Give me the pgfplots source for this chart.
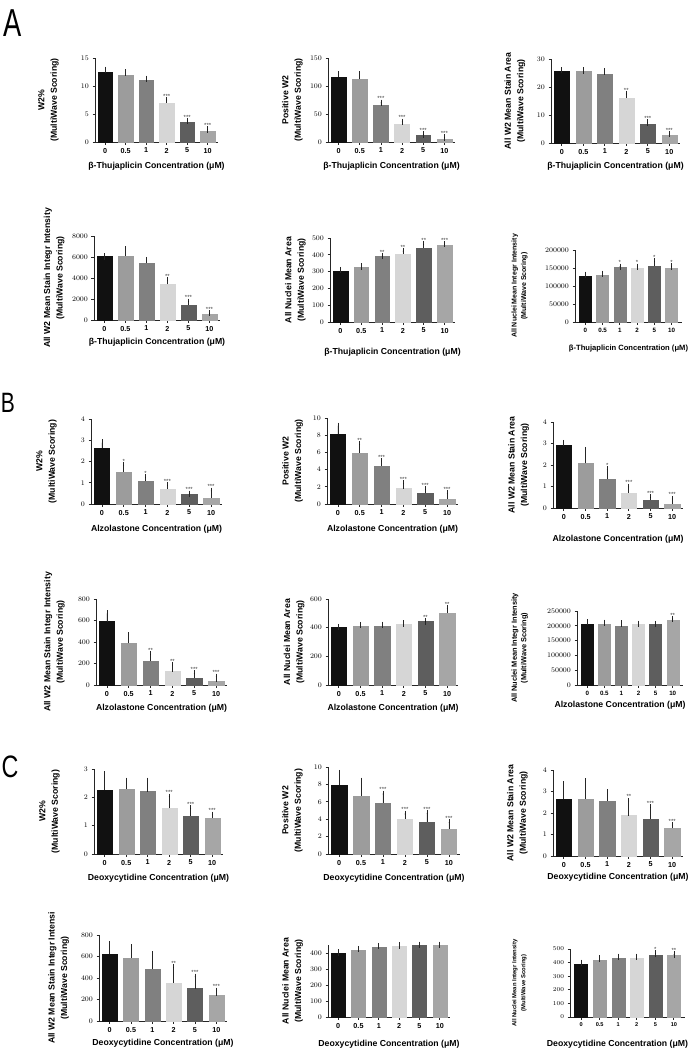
\documentclass[border=0pt]{standalone}
\usepackage{fontspec}
\setmainfont{Liberation Sans}
\usepackage{pgfplots}
\pgfplotsset{compat=1.18}
\definecolor{c0}{HTML}{111111}
\definecolor{c1}{HTML}{9C9C9C}
\definecolor{c2}{HTML}{808080}
\definecolor{c3}{HTML}{D6D6D6}
\definecolor{c4}{HTML}{5E5E5E}
\definecolor{c5}{HTML}{A6A6A6}
\newcommand\B[3]{\addplot[ybar, bar width=0.7, bar shift=0pt, fill=c#1, draw=c#1,
  error bars/.cd, y dir=plus, y explicit,
  error bar style={line width=0.7pt, draw=black!85, solid},
  error mark options={line width=0.7pt, mark size=3.2pt, draw=black!85, solid}]
  coordinates {(#1,#2) +- (0,#3)};}
\newcommand\St[1]{\addplot[only marks, mark=*, mark size=0.01pt, mark options={draw=none,fill=none},
  nodes near coords, point meta=explicit symbolic,
  nodes near coords style={font=\fontsize{6}{6}\selectfont, anchor=south, inner sep=0pt, yshift=1.8pt, text=black!75}]
  coordinates {#1};}
\pgfplotsset{
  gp/.style={
    scale only axis, anchor=south west, clip=false,
    ymin=0, xmin=-0.5, xmax=5.5,
    axis x line*=bottom, axis y line*=left,
    axis line style={line width=0.9pt, black!85},
    xtick={0,1,2,3,4,5}, xticklabels={0,0.5,1,2,5,10},
    tick align=outside, major tick length=2.5pt,
    tick style={line width=0.8pt, black!85},
    tick label style={font=\bfseries\fontsize{7.2}{8}\selectfont},
    scaled y ticks=false,
    yticklabel style={/pgf/number format/fixed,/pgf/number format/1000 sep={}},
    label style={font=\bfseries\fontsize{8.7}{12.5}\selectfont, align=center},
    xlabel style={at={(axis description cs:0.5,0)}, anchor=center},
    ylabel style={anchor=center},
  },
  smA/.style={xmin=-0.6, xmax=5.6,
    yticklabel style={font=\bfseries\fontsize{7}{8}\selectfont},
    xticklabel style={font=\bfseries\fontsize{6.2}{7}\selectfont},
    ylabel style={font=\bfseries\fontsize{7}{9.5}\selectfont},
    xlabel style={font=\bfseries\fontsize{7.6}{9}\selectfont}},
  smB/.style={xmin=-0.6, xmax=5.6,
    yticklabel style={font=\bfseries\fontsize{7}{8}\selectfont},
    xticklabel style={font=\bfseries\fontsize{6.2}{7}\selectfont},
    ylabel style={font=\bfseries\fontsize{7.4}{9.5}\selectfont}},
  smC/.style={xmin=-0.6, xmax=5.6,
    tick label style={font=\bfseries\fontsize{5.6}{6}\selectfont},
    ylabel style={font=\bfseries\fontsize{5.9}{9}\selectfont}},
}
\def\yl#1{ylabel style={at={(axis description cs:-#1,0.5)}}}
\def\xl#1{xlabel style={yshift=-#1pt}}
\begin{document}
\begin{tikzpicture}
\path[use as bounding box] (0,0) rectangle (692pt,-1050pt);
\node[font=\fontsize{39}{39}\selectfont, xscale=0.7] at (13pt,-23pt) {A};
\node[font=\fontsize{28}{28}\selectfont, xscale=0.75] at (8pt,-403pt) {B};
\node[font=\fontsize{31}{31}\selectfont, xscale=0.75] at (10pt,-767pt) {C};
% ---------- A ----------
\begin{axis}[gp, at={(95pt,-142pt)}, width=123pt, height=84pt, ymax=15, ytick={0,5,10,15},
  ylabel={W2\%\\(MultiWave Scoring)}, \yl{0.378}, xlabel={β-Thujaplicin Concentration (μM)}, \xl{24}]
\B{0}{12.4}{0.5}\B{1}{11.9}{0.5}\B{2}{11.0}{0.3}\B{3}{7.0}{0.5}\B{4}{3.6}{0.15}\B{5}{2.0}{0.25}
\St{(3,7.5)[***] (4,3.75)[***] (5,2.25)[***]}
\end{axis}
\begin{axis}[gp, at={(328pt,-142pt)}, width=127pt, height=84pt, ymax=150, ytick={0,50,100,150},
  ylabel={Positive W2\\(MultiWave Scoring)}, \yl{0.28}, xlabel={β-Thujaplicin Concentration (μM)}, \xl{24}]
\B{0}{116}{5}\B{1}{112}{9}\B{2}{66}{4}\B{3}{32}{4}\B{4}{12.5}{1}\B{5}{5}{3}
\St{(2,70)[***] (3,36)[***] (4,13.5)[***] (5,8)[***]}
\end{axis}
\begin{axis}[gp, at={(551pt,-143pt)}, width=129pt, height=84pt, ymax=30, ytick={0,10,20,30},
  ylabel={All W2 Mean Stain Area\\(MultiWave Scoring)}, \yl{0.279}, xlabel={β-Thujaplicin Concentration (μM)}, \xl{23}]
\B{0}{25.7}{0.3}\B{1}{25.6}{0.3}\B{2}{24.6}{0.9}\B{3}{16.0}{1.5}\B{4}{6.7}{0.6}\B{5}{2.9}{0.3}
\St{(3,17.5)[**] (4,7.3)[***] (5,3.2)[***]}
\end{axis}
\begin{axis}[gp, at={(94pt,-320pt)}, width=126pt, height=84pt, ymax=8000, ytick={0,2000,4000,6000,8000},
  ylabel={All W2 Mean Stain Integr Intensity\\(MultiWave Scoring)}, \yl{0.317}, xlabel={β-Thujaplicin Concentration (μM)}, \xl{22}]
\B{0}{6030}{30}\B{1}{6120}{610}\B{2}{5400}{310}\B{3}{3400}{350}\B{4}{1430}{310}\B{5}{570}{70}
\St{(3,3750)[**] (4,1740)[***] (5,640)[***]}
\end{axis}
\begin{axis}[gp, at={(330pt,-322pt)}, width=125pt, height=84pt, ymax=500, ytick={0,100,...,500},
  ylabel={All Nuclei Mean Area\\(MultiWave Scoring)}, \yl{0.276}, xlabel={β-Thujaplicin Concentration (μM)}, \xl{30}]
\B{0}{304}{5}\B{1}{325}{5}\B{2}{389}{3}\B{3}{405}{17}\B{4}{442}{20}\B{5}{458}{6}
\St{(2,392)[**] (3,422)[**] (4,462)[**] (5,464)[***]}
\end{axis}
\begin{axis}[gp, smA, at={(575pt,-322pt)}, width=107pt, height=72pt, ymax=200000, ytick={0,50000,...,200000},
  ylabel={All Nuclei Mean Integr Intensity\\(MultiWave Scoring)}, \yl{0.519}, xlabel={β-Thujaplicin Concentration (μM)}, \xl{27}]
\B{0}{126000}{5000}\B{1}{131000}{3000}\B{2}{152000}{1500}\B{3}{150000}{3000}\B{4}{156000}{12000}\B{5}{150000}{4000}
\St{(2,153500)[*] (3,153000)[*] (4,168000)[*] (5,154000)[*]}
\end{axis}
% ---------- B ----------
\begin{axis}[gp, at={(91pt,-504pt)}, width=131pt, height=85pt, ymax=4, ytick={0,1,2,3,4},
  ylabel={W2\%\\(MultiWave Scoring)}, \yl{0.34}, xlabel={Alzolastone Concentration (μM)}, \xl{25}]
\B{0}{2.62}{0.27}\B{1}{1.52}{0.31}\B{2}{1.08}{0.16}\B{3}{0.7}{0.18}\B{4}{0.45}{0.03}\B{5}{0.28}{0.34}
\St{(1,1.83)[*] (2,1.24)[*] (3,0.88)[***] (4,0.48)[***] (5,0.62)[***]}
\end{axis}
\begin{axis}[gp, at={(327pt,-504pt)}, width=131pt, height=86pt, ymax=10, ytick={0,2,...,10},
  ylabel={Positive W2\\(MultiWave Scoring)}, \yl{0.263}, xlabel={Alzolastone Concentration (μM)}, \xl{25}]
\B{0}{8.1}{1.0}\B{1}{5.95}{0.95}\B{2}{4.4}{0.6}\B{3}{1.8}{0.6}\B{4}{1.24}{0.46}\B{5}{0.55}{0.7}
\St{(1,6.9)[**] (2,5.0)[***] (3,2.4)[***] (4,1.7)[***] (5,1.25)[***]}
\end{axis}
\begin{axis}[gp, at={(553pt,-508pt)}, width=130pt, height=86pt, ymax=4, ytick={0,1,2,3,4},
  ylabel={All W2 Mean Stain Area\\(MultiWave Scoring)}, \yl{0.265}, xlabel={Alzolastone Concentration (μM)}, \xl{31}]
\B{0}{2.9}{0.12}\B{1}{2.08}{0.62}\B{2}{1.33}{0.47}\B{3}{0.71}{0.27}\B{4}{0.38}{0.12}\B{5}{0.18}{0.24}
\St{(2,1.8)[*] (3,0.98)[***] (4,0.5)[***] (5,0.42)[***]}
\end{axis}
\begin{axis}[gp, at={(96pt,-685pt)}, width=131pt, height=86pt, ymax=800, ytick={0,200,...,800},
  ylabel={All W2 Mean Stain Integr Intensity\\(MultiWave Scoring)}, \yl{0.317}, xlabel={Alzolastone Concentration (μM)}, \xl{23}]
\B{0}{589}{78}\B{1}{388}{71}\B{2}{223}{63}\B{3}{124}{62}\B{4}{68}{41}\B{5}{31}{46}
\St{(2,286)[**] (3,186)[**] (4,109)[***] (5,77)[***]}
\end{axis}
\begin{axis}[gp, at={(328pt,-685pt)}, width=130pt, height=86pt, ymax=600, ytick={0,200,400,600},
  ylabel={All Nuclei Mean Area\\(MultiWave Scoring)}, \yl{0.26}, xlabel={Alzolastone Concentration (μM)}, \xl{23}]
\B{0}{400}{5}\B{1}{412}{6}\B{2}{407}{13}\B{3}{426}{2}\B{4}{442}{2}\B{5}{500}{35}
\St{(4,444)[**] (5,535)[**]}
\end{axis}
\begin{axis}[gp, smB, at={(577pt,-685pt)}, width=106pt, height=74pt, ymax=250000, ytick={0,50000,...,250000},
  ylabel={All Nuclei Mean Integr Intensity\\(MultiWave Scoring)}, \yl{0.54}, xlabel={Alzolastone Concentration (μM)}, \xl{20}, xlabel style={xshift=-10pt}]
\B{0}{207000}{5000}\B{1}{205000}{5000}\B{2}{200000}{8000}\B{3}{205000}{1500}\B{4}{205000}{1000}\B{5}{220000}{3000}
\St{(5,223000)[**]}
\end{axis}
% ---------- C ----------
\begin{axis}[gp, at={(94pt,-854pt)}, width=129pt, height=85pt, ymax=3, ytick={0,1,2,3},
  ylabel={W2\%\\(MultiWave Scoring)}, \yl{0.345}, xlabel={Deoxycytidine Concentration (μM)}, \xl{24}]
\B{0}{2.26}{0.55}\B{1}{2.29}{0.29}\B{2}{2.2}{0.38}\B{3}{1.61}{0.41}\B{4}{1.35}{0.26}\B{5}{1.26}{0.12}
\St{(3,2.02)[***] (4,1.61)[***] (5,1.38)[***]}
\end{axis}
\begin{axis}[gp, at={(328pt,-854pt)}, width=132pt, height=87pt, ymax=10, ytick={0,2,...,10},
  ylabel={Positive W2\\(MultiWave Scoring)}, \yl{0.27}, xlabel={Deoxycytidine Concentration (μM)}, \xl{24}]
\B{0}{7.9}{1.4}\B{1}{6.7}{1.7}\B{2}{5.85}{1.05}\B{3}{4.05}{0.55}\B{4}{3.66}{1.04}\B{5}{2.9}{0.7}
\St{(2,6.9)[***] (3,4.6)[***] (4,4.7)[***] (5,3.6)[***]}
\end{axis}
\begin{axis}[gp, at={(553pt,-856pt)}, width=130pt, height=86pt, ymax=4, ytick={0,1,2,3,4},
  ylabel={All W2 Mean Stain Area\\(MultiWave Scoring)}, \yl{0.273}, xlabel={Deoxycytidine Concentration (μM)}, \xl{21}]
\B{0}{2.65}{0.68}\B{1}{2.65}{0.81}\B{2}{2.56}{0.39}\B{3}{1.88}{0.68}\B{4}{1.72}{0.54}\B{5}{1.29}{0.15}
\St{(3,2.56)[**] (4,2.26)[***] (5,1.44)[***]}
\end{axis}
\begin{axis}[gp, at={(99pt,-1021pt)}, width=128pt, height=86pt, ymax=800, ytick={0,200,...,800},
  ylabel={All W2 Mean Stain Integr Intensi\\(MultiWave Scoring)}, \yl{0.316}, xlabel={Deoxycytidine Concentration (μM)}, \xl{22}]
\B{0}{622}{94}\B{1}{588}{97}\B{2}{482}{137}\B{3}{355}{143}\B{4}{302}{109}\B{5}{237}{43}
\St{(3,498)[**] (4,411)[***] (5,280)[***]}
\end{axis}
\begin{axis}[gp, at={(328pt,-1017pt)}, width=122pt, height=72pt, ymax=450, ytick={0,100,...,400},
  ylabel={All Nuclei Mean Area\\(MultiWave Scoring)}, \yl{0.29}, xlabel={Deoxycytidine Concentration (μM)}, \xl{27}]
\B{0}{396}{6}\B{1}{418}{7}\B{2}{437}{7}\B{3}{442}{4}\B{4}{449}{2}\B{5}{449}{2}
\end{axis}
\begin{axis}[gp, smC, at={(570pt,-1017pt)}, width=115pt, height=68pt, ymax=500, ytick={0,100,...,500},
  ylabel={All Nuclei Mean Integr Intensity\\(MultiWave Scoring)}, \yl{0.44}, xlabel={Deoxycytidine Concentration (μM)}, \xl{27}, xlabel style={xshift=-10pt}]
\B{0}{389}{10}\B{1}{419}{10}\B{2}{436}{7}\B{3}{436}{7}\B{4}{453}{15}\B{5}{453}{8}
\St{(4,468)[*] (5,461)[**]}
\end{axis}
\end{tikzpicture}
\end{document}
